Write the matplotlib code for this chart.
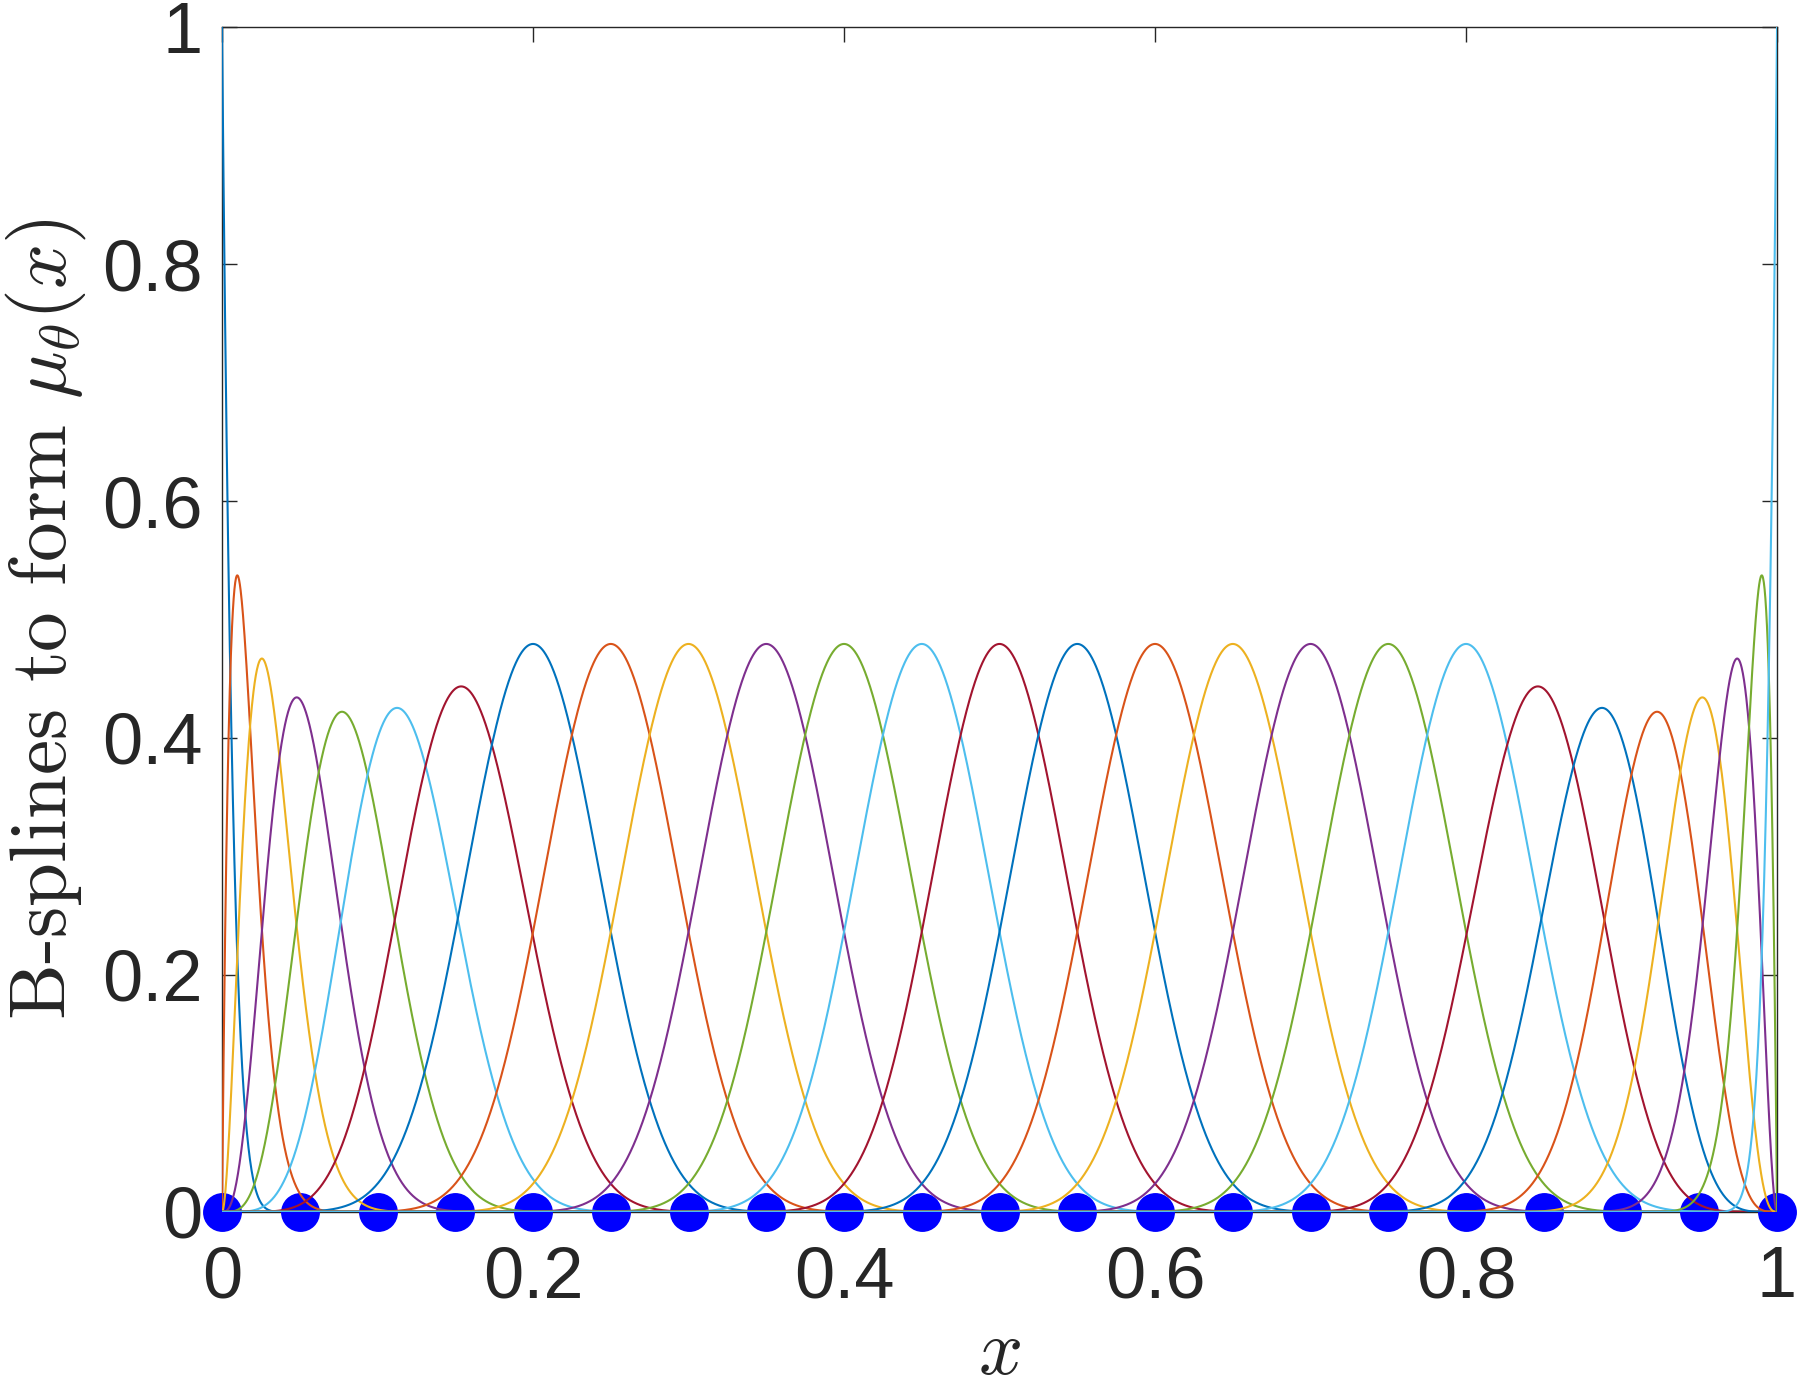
import numpy as np
import matplotlib
matplotlib.use('Agg')
from matplotlib import pyplot as plt

# knot points (uniform breaks on [0, 1]) and spline degree
knots = [0.0, 0.05, 0.1, 0.15, 0.2, 0.25, 0.3, 0.35, 0.4, 0.45, 0.5,
         0.55, 0.6, 0.65, 0.7, 0.75, 0.8, 0.85, 0.9, 0.95, 1.0]
degree = 7
x_ticks = [0, 0.2, 0.4, 0.6, 0.8, 1]
x_tick_labels = ['0', '0.2', '0.4', '0.6', '0.8', '1']
y_ticks = [0, 0.2, 0.4, 0.6, 0.8, 1]
y_tick_labels = ['0', '0.2', '0.4', '0.6', '0.8', '1']

matlab_colors = ['#0072BD', '#D95319', '#EDB120', '#7E2F8E',
                 '#77AC30', '#4DBEEE', '#A2142F']


def bspline_basis(t, k, xs):
    # Cox-de Boor recursion on a clamped knot vector
    n_int = len(t) - 1
    B = np.zeros((n_int, len(xs)))
    for i in range(n_int):
        if t[i] < t[i + 1]:
            B[i] = (xs >= t[i]) & (xs < t[i + 1])
    last = max(i for i in range(n_int) if t[i] < t[i + 1])
    B[last, xs == t[-1]] = 1.0
    for p in range(1, k + 1):
        Bn = np.zeros((n_int - p, len(xs)))
        for i in range(n_int - p):
            a = np.zeros_like(xs)
            b = np.zeros_like(xs)
            if t[i + p] > t[i]:
                a = (xs - t[i]) / (t[i + p] - t[i]) * B[i]
            if t[i + p + 1] > t[i + 1]:
                b = (t[i + p + 1] - xs) / (t[i + p + 1] - t[i + 1]) * B[i + 1]
            Bn[i] = a + b
        B = Bn
    return B


t = np.r_[[knots[0]] * degree, knots, [knots[-1]] * degree]
xs = np.linspace(0, 1, 4001)
basis = bspline_basis(t, degree, xs)

plt.rcParams['mathtext.fontset'] = 'cm'

fig = plt.figure(figsize=(17.99, 13.94), dpi=100)
ax = fig.add_axes([0.1234, 0.1306, 0.8644, 0.8500])

ax.plot(knots, np.zeros(len(knots)), 'o', color='#0000FF', markersize=28,
        markeredgewidth=0, clip_on=False, zorder=1.5)
for i, b in enumerate(basis):
    ax.plot(xs, b, color=matlab_colors[i % 7], linewidth=1.5, zorder=2)

ax.set_xlim(0, 1)
ax.set_ylim(0, 1)
ax.set_xticks(x_ticks)
ax.set_xticklabels(x_tick_labels)
ax.set_yticks(y_ticks)
ax.set_yticklabels(y_tick_labels)
ax.tick_params(direction='in', top=True, right=True, length=11, width=1.0,
               color='#262626', labelsize=52, labelcolor='#262626')
ax.tick_params(axis='x', pad=24)
ax.tick_params(axis='y', pad=14)
for lab in ax.get_xticklabels() + ax.get_yticklabels():
    lab.set_fontfamily('Liberation Sans')
for s in ax.spines.values():
    s.set_linewidth(1.0)
    s.set_color('#262626')
    s.set_zorder(0.5)
ax.set_axisbelow(True)

ax.set_xlabel('$x$', fontsize=56, color='#262626', labelpad=1)
ax.set_ylabel(r'B-splines to form $\mu_\theta(x)$', fontsize=57,
              fontfamily='cmr10', color='#262626', labelpad=10)

fig.savefig('out.png', dpi=100)
